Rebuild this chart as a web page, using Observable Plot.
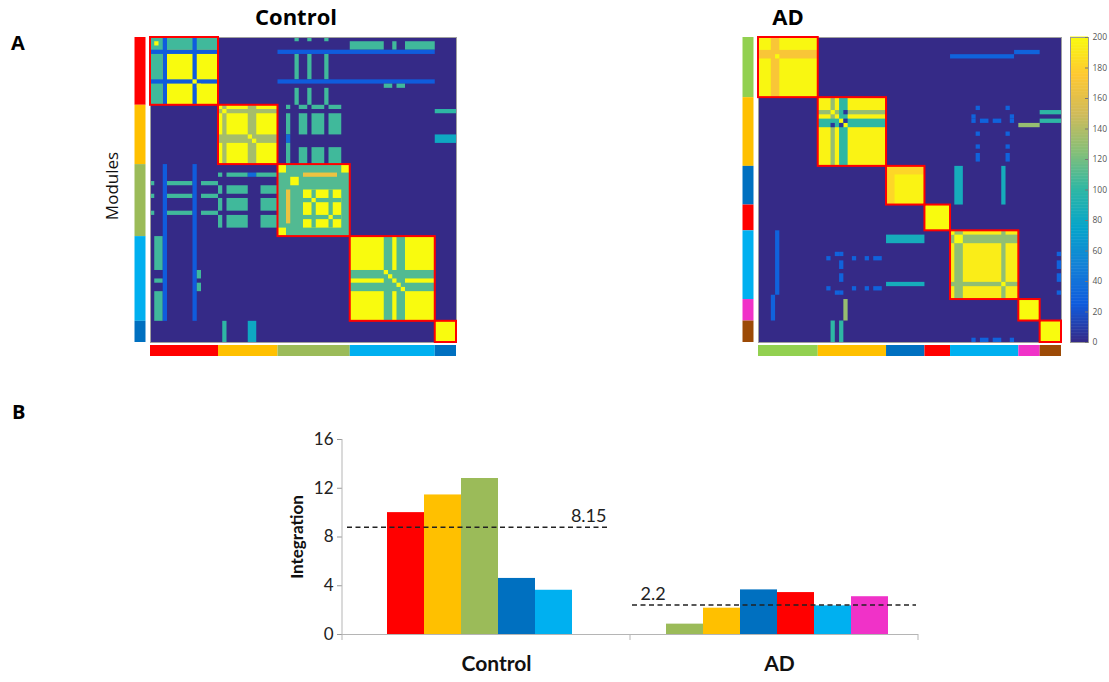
<!DOCTYPE html>
<html><head><meta charset="utf-8">
<script src="https://cdn.jsdelivr.net/npm/d3@7"></script>
<script src="https://cdn.jsdelivr.net/npm/@observablehq/plot@0.6"></script>
<style>
body{margin:0;background:#fff;}
#fig{position:relative;width:1109px;height:682px;overflow:hidden;font-family:"Open Sans",sans-serif;color:#000}
.abs{position:absolute;line-height:1em;white-space:nowrap}
.panel{font-weight:bold;font-size:20px}
.title{font-weight:bold;font-size:22px;text-align:center}
</style></head><body><div id="fig"></div>
<script>
// ---------- data ----------
const parula = ["#352a87","#0f5cdd","#1481d6","#06a4ca","#2eb7a4","#87bf77","#d1bb59","#fec832","#f9fb0e"];
const colorbarTicks = [0,20,40,60,80,100,120,140,160,180,200];

const controlModuleSizes = [16,14,17,20,5];
const controlModuleColors = ["#ff0000","#ffc000","#9bbb59","#00b0f0","#0070c0"];
const adModuleSizes = [14,16,9,6,16,5,5];
const adModuleColors = ["#92d050","#ffc000","#0070c0","#ff0000","#00b0f0","#f032c8","#9c4a06"];

// co-classification patches: [col0, col1, row0, row1, value]; matrix is symmetric (each patch is mirrored)
const controlPatches = [
  [0,16,0,16,200],[0,16,0,3,105],[1,2,1,2,200],[3,4,0,16,25],[10,11,0,16,25],[10,11,10,11,200],[11,12,11,12,200],
  [16,30,16,30,200],[17,18,16,30,135],[23,25,16,30,135],[17,18,17,18,200],[23,24,23,24,200],[24,25,24,25,200],
  [30,47,30,47,110],[30,32,30,32,200],[45,47,30,32,200],[33,35,33,35,200],[36,45,36,45,200],
  [38,39,36,45,110],[42,43,36,45,110],[38,39,38,39,200],[42,43,42,43,200],[36,44,32,33,165],
  [47,67,47,67,200],[55,57,47,67,110],[58,60,47,67,110],[55,56,55,56,200],[56,57,56,57,200],[58,59,58,59,200],[59,60,59,60,200],
  [67,72,67,72,200],
  [34,35,0,1,105],[37,38,0,1,105],[41,42,0,1,105],
  [34,35,4,10,105],[37,38,4,10,105],[41,42,4,10,105],
  [34,35,12,16,105],[37,38,12,16,105],[41,42,12,16,105],
  [47,55,1,3,105],[57,58,1,3,105],[60,67,1,3,105],
  [30,67,3,4,25],[30,67,10,11,25],
  [55,57,11,12,105],[58,60,11,12,105],
  [67,72,17,18,100],[67,72,23,25,80],
  [32,33,16,17,105],[32,33,18,23,105],[32,33,23,25,35],[32,33,25,30,105],
  [35,37,16,17,105],[38,41,16,17,105],[42,45,16,17,105],
  [35,37,18,23,105],[38,41,18,23,105],[42,45,18,23,105],
  [35,37,26,30,105],[38,41,26,30,105],[42,45,26,30,105]
];
const adPatches = [
  [0,14,0,14,198],[3,5,0,14,172],[4,5,4,5,200],
  [14,30,14,30,196],[17,18,14,30,130],[19,21,14,30,100],[17,18,17,18,200],[19,20,19,20,200],[20,21,20,21,200],
  [17,18,20,21,5],[19,20,20,21,5],
  [30,39,30,39,196],[30,32,30,39,182],
  [39,45,39,45,200],
  [45,61,45,61,193],[46,48,45,61,128],[57,58,45,61,128],[46,48,46,48,200],[57,58,57,58,200],[45,46,45,46,200],
  [61,66,61,66,200],[66,71,66,71,200],
  [45,60,4,5,30],[60,66,3,4,30],
  [66,71,17,18,100],[66,71,19,20,100],[61,66,20,21,130],
  [46,48,30,39,85],[57,58,30,39,85],
  [51,52,16,17,30],[58,59,16,17,30],[50,51,18,19,30],[59,60,18,19,30],[50,51,19,20,30],[52,54,19,20,30],
  [55,57,19,20,30],[59,60,19,20,30],[51,52,22,23,30],[58,59,22,23,30],[51,52,25,26,30],[58,59,25,26,30],
  [51,52,27,29,30],[58,59,27,29,30],
  [70,71,50,51,30],[70,71,52,54,30],[70,71,55,57,30],[70,71,59,60,30]
];

const groups = ["Control","AD"];
const slots = [0,1,2,3,4,5];
const controlBarValues = [10.0, 11.45, 12.8, 4.6, 3.63];
const controlBarColors = ["#ff0000","#ffc000","#9bbb59","#0070c0","#00b0f0"];
const adBarValues = [0.85, 2.16, 3.66, 3.44, 2.35, 3.1];
const adBarColors = ["#9bbb59","#ffc000","#0070c0","#ff0000","#00b0f0","#f032c8"];
const meanValues = [8.8, 2.43];
const meanLabels = ["8.15","2.2"];
const integrationTicks = [0,4,8,12,16];

// ---------- helpers ----------
const parulaInterp = d3.piecewise(d3.interpolateRgb, parula);
const fig = document.getElementById("fig");
function place(node, left, top) {
  const d = document.createElement("div");
  d.className = "abs"; d.style.left = left + "px"; d.style.top = top + "px";
  d.appendChild(node); fig.appendChild(d); return d;
}
function label(text, cls, left, top, width) {
  const d = document.createElement("div");
  d.className = "abs " + cls; d.textContent = text;
  d.style.left = left + "px"; d.style.top = top + "px";
  if (width) d.style.width = width + "px";
  fig.appendChild(d);
}
function buildModules(sizes, colors) {
  let s = 0;
  return sizes.map((n, i) => { const m = {start: s, end: s + n, color: colors[i]}; s += n; return m; });
}
function buildCells(patches) {
  const out = [];
  for (const [c0, c1, r0, r1, v] of patches) {
    out.push({c0, c1, r0, r1, v});
    if (c0 !== r0 || c1 !== r1) out.push({c0: r0, c1: r1, r0: c0, r1: c1, v});
  }
  return out;
}
function matrixPlot({sizes, colors, patches, w, h, marginLeft, marginRight, marginTop, marginBottom, extra = []}) {
  const N = d3.sum(sizes);
  const mods = buildModules(sizes, colors);
  const cells = buildCells(patches);
  return Plot.plot({
    width: marginLeft + w + marginRight,
    height: marginTop + h + marginBottom,
    marginLeft, marginRight, marginTop, marginBottom,
    style: {background: "none", overflow: "visible"},
    x: {domain: [0, N], axis: null},
    y: {domain: [0, N], axis: null, reverse: true},
    color: {type: "linear", domain: [0, 200], interpolate: parulaInterp},
    marks: [
      Plot.frame({fill: parula[0]}),
      Plot.rect(cells, {x1: "c0", x2: "c1", y1: "r0", y2: "r1", fill: "v"}),
      Plot.frame({stroke: "#a0a0a0", strokeWidth: 1}),
      Plot.rect(mods, {x1: "start", x2: "end", y1: "start", y2: "end", fill: "none", stroke: "#ff0000", strokeWidth: 2}),
      ...mods.map(m => Plot.ruleX([m], {x: () => 0, y1: "start", y2: "end", stroke: m.color, strokeWidth: 11, dx: -10.5})),
      ...mods.map(m => Plot.ruleY([m], {y: () => N, x1: "start", x2: "end", stroke: m.color, strokeWidth: 11, dy: 8})),
      ...extra
    ]
  });
}

// ---------- panel A ----------
label("A", "panel", 11, 33);
label("B", "panel", 12, 402);
label("Control", "title", 196, 5, 200);
label("AD", "title", 738, 5, 100);

place(matrixPlot({
  sizes: controlModuleSizes, colors: controlModuleColors, patches: controlPatches,
  w: 306, h: 305, marginLeft: 55, marginRight: 5, marginTop: 7, marginBottom: 16,
  extra: [Plot.text(["Modules"], {frameAnchor: "left", text: d => d, rotate: -90, dx: -38, dy: -4,
    textAnchor: "middle", fontSize: 17, fontFamily: "Open Sans", fill: "#111"})]
}), 95, 30);

place(matrixPlot({
  sizes: adModuleSizes, colors: adModuleColors, patches: adPatches,
  w: 303, h: 305, marginLeft: 28, marginRight: 2, marginTop: 7, marginBottom: 16
}), 730, 30);

// colorbar
const cbSteps = d3.range(0, 200, 1);
place(Plot.plot({
  width: 47, height: 322, marginLeft: 8, marginRight: 21, marginTop: 7, marginBottom: 10,
  style: {background: "none", overflow: "visible", fontFamily: "Open Sans"},
  x: {domain: [0, 1], axis: null},
  y: {domain: [0, 200], axis: null},
  color: {type: "linear", domain: [0, 200], interpolate: parulaInterp},
  marks: [
    Plot.rect(cbSteps, {x1: () => 0, x2: () => 1, y1: d => d, y2: d => d + 1, fill: d => d + 0.5, insetTop: -0.5}),
    Plot.frame({stroke: "#999"}),
    Plot.tickY(colorbarTicks, {y: d => d, stroke: "#777", insetLeft: 15}),
    Plot.axisY(colorbarTicks, {anchor: "right", tickSize: 0, tickPadding: 4, fontSize: 8.5, fill: "#555", label: null})
  ]
}), 1062, 30);

// ---------- panel B ----------
const bars = [
  ...controlBarValues.map((value, i) => ({group: groups[0], slot: slots[i], value, color: controlBarColors[i]})),
  ...adBarValues.map((value, i) => ({group: groups[1], slot: slots[i], value, color: adBarColors[i]}))
];
const means = groups.map((group, i) => ({group, value: meanValues[i], label: meanLabels[i]}));
const groupRows = groups.map(group => ({group}));

const barPlot = Plot.plot({
  width: 668, height: 262, marginLeft: 72, marginRight: 20, marginTop: 19, marginBottom: 48,
  style: {background: "none", overflow: "visible", fontFamily: "Lato"},
  fx: {domain: groups, padding: 0, axis: null},
  x: {domain: slots, padding: 0, inset: 32, axis: null},
  y: {domain: [0, 16], axis: null},
  color: {type: "identity"},
  marks: [
    Plot.barY(bars.filter(d => d.group === groups[0]), {fx: "group", x: "slot", y: "value", fill: "color", dx: 12}),
    Plot.barY(bars.filter(d => d.group === groups[1]), {fx: "group", x: "slot", y: "value", fill: "color", dx: 3}),
    Plot.ruleY([0], {stroke: "#b5b5b5"}),
    Plot.axisY({ticks: integrationTicks, tickSize: 5, tickPadding: 4, fontSize: 17, stroke: "#999", fill: "#222", label: null}),
    Plot.text([groupRows[0]], {fx: "group", text: "group", frameAnchor: "bottom", lineAnchor: "top", dy: 22, dx: 10, fontSize: 21, fontWeight: "bold", fill: "#111"}),
    Plot.text([groupRows[1]], {fx: "group", text: "group", frameAnchor: "bottom", lineAnchor: "top", dy: 22, dx: 5, fontSize: 21, fontWeight: "bold", fill: "#111"}),
    Plot.ruleY([means[0]], {fx: "group", y: "value", insetLeft: 5, insetRight: 22, stroke: "#222", strokeWidth: 1.5, strokeDasharray: "5,3.5"}),
    Plot.ruleY([means[1]], {fx: "group", y: "value", insetLeft: 2, insetRight: 2, stroke: "#222", strokeWidth: 1.5, strokeDasharray: "5,3.5"}),
    Plot.text([means[0]], {fx: "group", y: "value", text: "label", frameAnchor: "right", textAnchor: "end", lineAnchor: "bottom", dx: -24, dy: -5, fontSize: 18, fill: "#222"}),
    Plot.text([means[1]], {fx: "group", y: "value", text: "label", frameAnchor: "left", textAnchor: "start", lineAnchor: "bottom", dx: 10, dy: -5, fontSize: 18, fill: "#222"}),
    Plot.text([groupRows[0]], {fx: "group", text: () => "Integration", frameAnchor: "left", rotate: -90, dx: -45, textAnchor: "middle", fontSize: 17, fontWeight: "bold", fill: "#111"})
  ]
});
place(barPlot, 270, 420);
// y-axis line and category divider ticks from the plot's own scales
{
  const fxs = barPlot.scale("fx"), ys = barPlot.scale("y");
  const svg = d3.select(barPlot);
  const [x0, x1] = fxs.range;
  const yb = ys.apply(0), yt = ys.apply(16);
  svg.append("line").attr("x1", x0).attr("x2", x0).attr("y1", yt).attr("y2", yb).attr("stroke", "#b5b5b5");
  for (const x of [x0, fxs.apply(groups[1]), x1]) {
    svg.append("line").attr("x1", x).attr("x2", x).attr("y1", yb).attr("y2", yb + 6).attr("stroke", "#b5b5b5");
  }
}
</script></body></html>
